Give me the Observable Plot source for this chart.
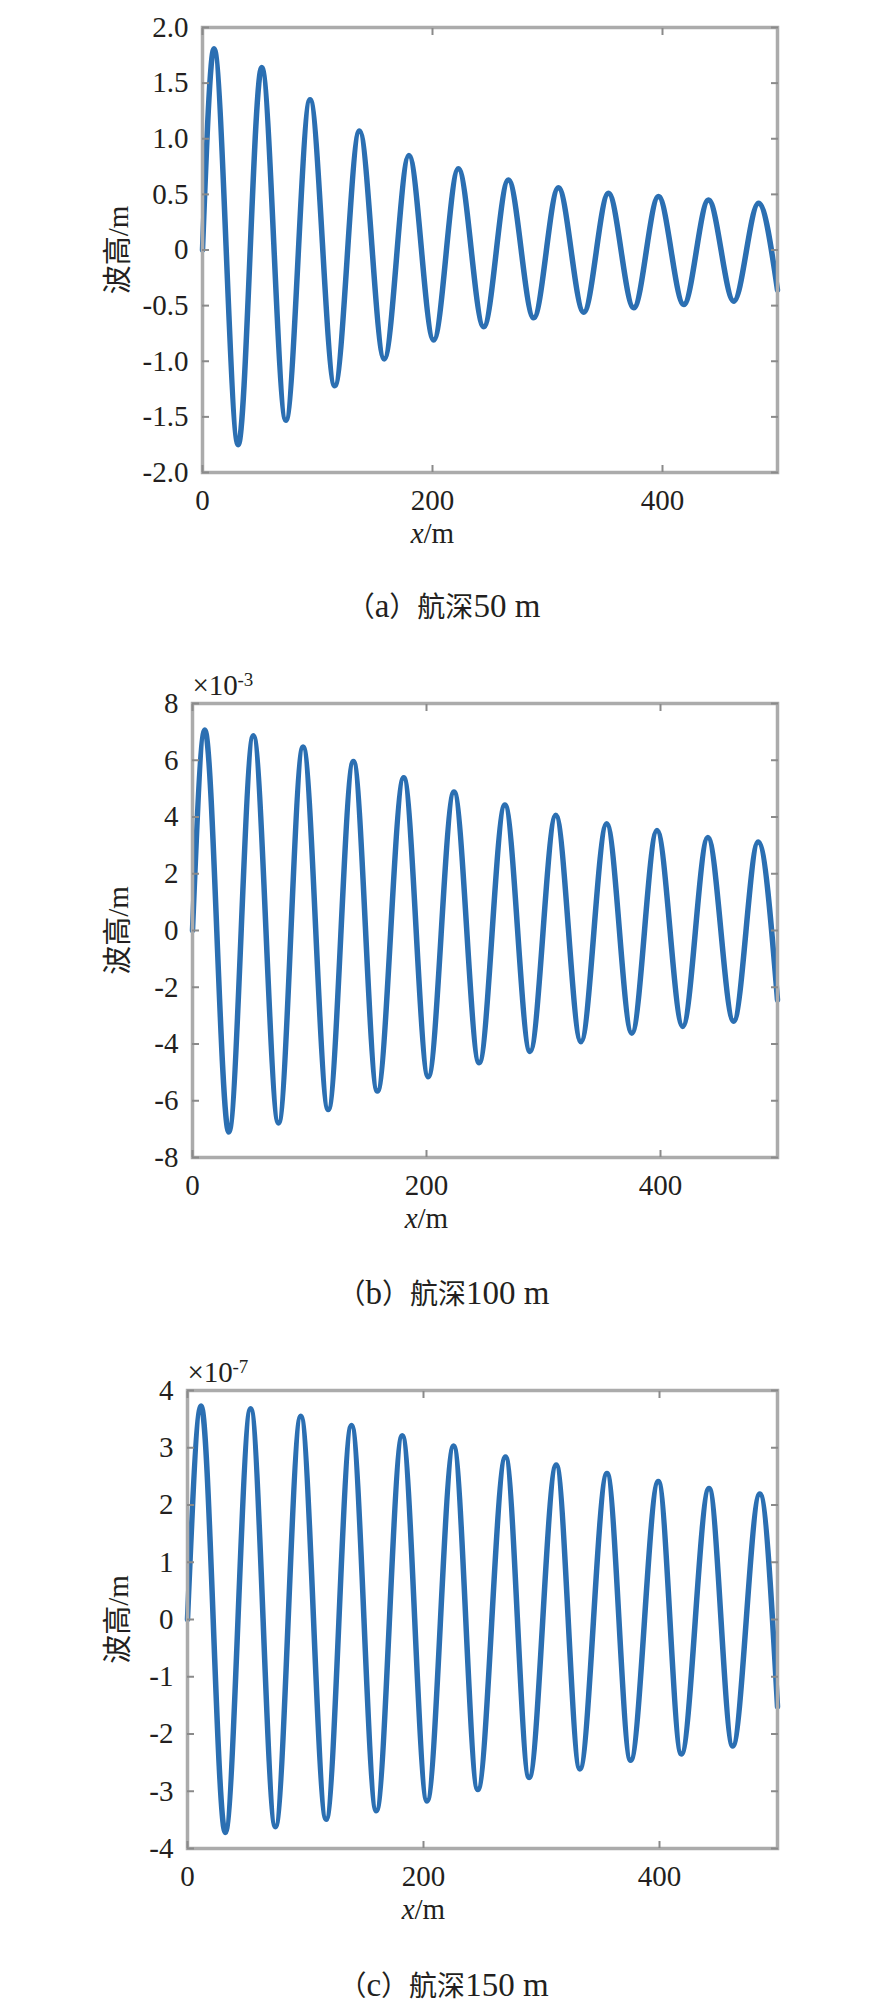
<!DOCTYPE html>
<html><head><meta charset="utf-8">
<script src="https://cdn.jsdelivr.net/npm/d3@7"></script>
<script src="https://cdn.jsdelivr.net/npm/@observablehq/plot@0.6"></script>
<style>
body{margin:0;background:#fff;}
#root{position:relative;width:887px;height:2014px;overflow:hidden;background:#fff;}
.panel{position:absolute;left:0;}
.cap{position:absolute;left:0;width:887px;text-align:center;line-height:1;color:#231f20;white-space:nowrap;}
.cap .cjk{font-family:"Noto Sans CJK SC",sans-serif;font-size:28px;}
.cap .lat{font-family:"Liberation Serif",serif;font-size:33px;}
</style></head><body><div id="root"></div>
<script>
// ---- data ----
// x ticks shared by the three panels
const xTicks = [0, 200, 400];

// (a) 航深 50 m
const aPeakX   = [10, 51.5, 93.5, 136.5, 179.5, 222.5, 266, 309.5, 353, 396.5, 440, 483.5];
const aPeakY   = [1.81, 1.64, 1.35, 1.07, 0.85, 0.73, 0.63, 0.56, 0.51, 0.48, 0.45, 0.42];
const aTroughX = [31, 72.5, 115, 158, 201, 244.5, 288, 331.5, 375, 418.5, 462];
const aTroughY = [-1.75, -1.53, -1.22, -0.98, -0.81, -0.69, -0.61, -0.56, -0.52, -0.49, -0.46];
const aEndY = -0.36;
const aYTicks = [-2, -1.5, -1, -0.5, 0, 0.5, 1, 1.5, 2];

// (b) 航深 100 m  (×10^-3)
const bPeakX   = [10.5, 52, 94.5, 137.5, 180.5, 223.5, 267, 310.5, 354, 397, 440.5, 483.5];
const bPeakY   = [7.07, 6.86, 6.47, 5.96, 5.38, 4.88, 4.42, 4.06, 3.76, 3.52, 3.28, 3.12];
const bTroughX = [31, 73.5, 116, 158, 201.5, 245, 288.5, 332, 375.5, 419, 462.5];
const bTroughY = [-7.10, -6.78, -6.31, -5.66, -5.15, -4.66, -4.26, -3.92, -3.62, -3.38, -3.20];
const bEndY = -2.45;
const bYTicks = [-8, -6, -4, -2, 0, 2, 4, 6, 8];

// (c) 航深 150 m  (×10^-7)
const cPeakX   = [11.5, 53.5, 96, 139, 182, 225.5, 269.5, 312.5, 355.5, 399, 442, 485];
const cPeakY   = [3.73, 3.68, 3.55, 3.39, 3.21, 3.03, 2.84, 2.70, 2.55, 2.41, 2.29, 2.19];
const cTroughX = [32, 74.5, 117.5, 160, 203, 246, 289.5, 332.5, 375.5, 418.5, 462];
const cTroughY = [-3.72, -3.62, -3.49, -3.34, -3.17, -2.97, -2.76, -2.61, -2.46, -2.35, -2.21];
const cEndY = -1.52;
const cYTicks = [-4, -3, -2, -1, 0, 1, 2, 3, 4];

const captionLetters = ["a", "b", "c"];
const captionDepths = ["50 m", "100 m", "150 m"];
const exponents = [null, "-3", "-7"];

// ---- styles ----
const FONT = '"Liberation Serif","Noto Sans CJK SC",serif';
const BLUE = "#2b6fb2";
const FRAME = "#ababab";
const FS = 29;

function points(px, py, tx, ty, endY) {
  const pts = [{x: 0, y: 0}];
  for (let i = 0; i < px.length; i++) {
    pts.push({x: px[i], y: py[i]});
    if (i < tx.length) pts.push({x: tx[i], y: ty[i]});
  }
  pts.push({x: 500, y: endY});
  return pts;
}

function panel(cfg) {
  const tickMarks = (anchor, axis) => (axis === "x" ? Plot.axisX : Plot.axisY)(
    axis === "x" ? xTicks : cfg.yTicks,
    {anchor, tickSize: -7, tickFormat: () => "", stroke: "#8a8a8a", strokeWidth: 2, label: null}
  );
  const marks = [
    Plot.line(cfg.pts, {x: "x", y: "y", curve: "monotone-x", stroke: BLUE, strokeWidth: 5.5, strokeLinejoin: "round"}),
    Plot.frame({stroke: FRAME, strokeWidth: 3.5}),
    tickMarks("bottom", "x"), tickMarks("top", "x"),
    tickMarks("left", "y"), tickMarks("right", "y"),
    Plot.axisX(xTicks, {anchor: "bottom", tickSize: 0, tickPadding: 17, fontSize: FS, tickFormat: d => String(d), label: null}),
    Plot.axisY(cfg.yTicks, {anchor: "left", tickSize: 0, tickPadding: 14, fontSize: FS, tickFormat: cfg.fmt, label: null}),
    Plot.text(["波高/m"], {text: d => d, frameAnchor: "left", dx: -(cfg.left - 118), rotate: -90, textAnchor: "middle", lineAnchor: "middle", fontSize: FS, fill: "#231f20"}),
    Plot.text(["x"], {text: d => d, x: () => 200, frameAnchor: "bottom", dy: 61, dx: -9, textAnchor: "end", lineAnchor: "middle", fontSize: FS, fontStyle: "italic", fill: "#231f20"}),
    Plot.text(["/m"], {text: d => d, x: () => 200, frameAnchor: "bottom", dy: 61, dx: -9, textAnchor: "start", lineAnchor: "middle", fontSize: FS, fill: "#231f20"})
  ];
  if (cfg.exp) {
    marks.push(Plot.text(["×10"], {text: d => d, frameAnchor: "top-left", dy: -18, textAnchor: "start", lineAnchor: "middle", fontSize: FS, fill: "#231f20"}));
    marks.push(Plot.text([cfg.exp], {text: d => d, frameAnchor: "top-left", dx: 45, dy: -24, textAnchor: "start", lineAnchor: "middle", fontSize: 19, fill: "#231f20"}));
  }
  return Plot.plot({
    width: 887, height: cfg.height,
    marginLeft: cfg.left, marginRight: 110, marginTop: cfg.mt, marginBottom: cfg.mb,
    style: {fontFamily: FONT, fontSize: FS + "px", color: "#231f20", background: "transparent", overflow: "visible"},
    x: {domain: [0, 500]},
    y: {domain: cfg.yDomain},
    marks
  });
}

const root = document.getElementById("root");
const cfgs = [
  {top: 0, mt: 27, frameH: 445, left: 202, yDomain: [-2, 2], yTicks: aYTicks,
   fmt: d => d === 0 ? "0" : d.toFixed(1), pts: points(aPeakX, aPeakY, aTroughX, aTroughY, aEndY), exp: exponents[0], capY: 606},
  {top: 660, mt: 43, frameH: 454, left: 192, yDomain: [-8, 8], yTicks: bYTicks,
   fmt: d => String(d), pts: points(bPeakX, bPeakY, bTroughX, bTroughY, bEndY), exp: exponents[1], capY: 1293},
  {top: 1345, mt: 45, frameH: 458, left: 187, yDomain: [-4, 4], yTicks: cYTicks,
   fmt: d => String(d), pts: points(cPeakX, cPeakY, cTroughX, cTroughY, cEndY), exp: exponents[2], capY: 1985}
];
cfgs.forEach((c, i) => {
  c.mb = 80;
  c.height = c.mt + c.frameH + c.mb;
  const div = document.createElement("div");
  div.className = "panel";
  div.style.top = c.top + "px";
  div.appendChild(panel(c));
  root.appendChild(div);
  const cap = document.createElement("div");
  cap.className = "cap";
  cap.style.top = (c.capY - 16) + "px";
  cap.innerHTML = `<span class="cjk">（</span><span class="lat">${captionLetters[i]}</span><span class="cjk">）航深</span><span class="lat">${captionDepths[i]}</span>`;
  root.appendChild(cap);
});
</script>
</body></html>
